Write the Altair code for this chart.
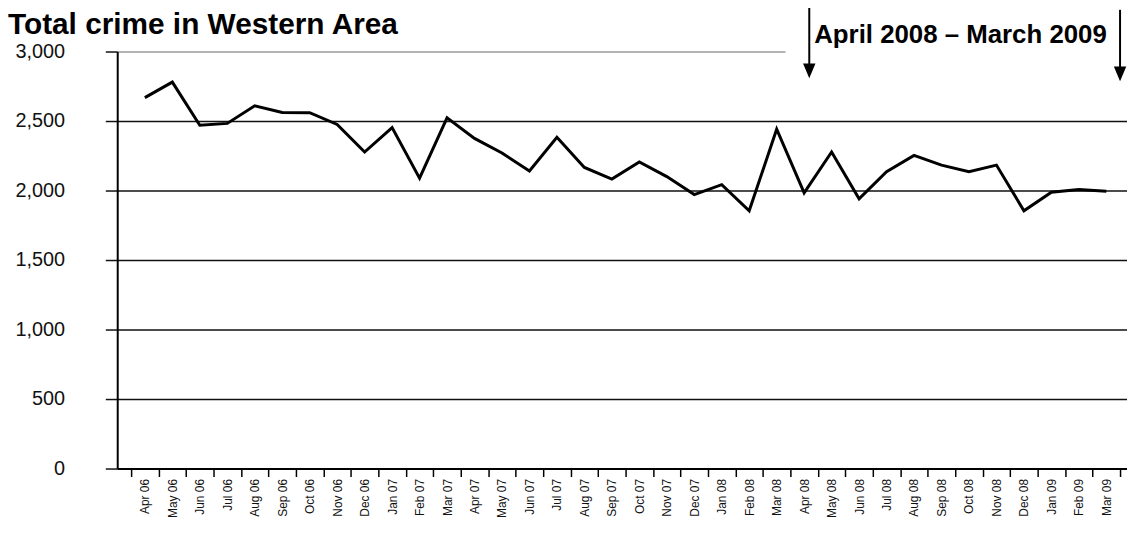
import altair as alt
import pandas as pd

months = ["Apr 06", "May 06", "Jun 06", "Jul 06", "Aug 06", "Sep 06", "Oct 06", "Nov 06",
          "Dec 06", "Jan 07", "Feb 07", "Mar 07", "Apr 07", "May 07", "Jun 07", "Jul 07",
          "Aug 07", "Sep 07", "Oct 07", "Nov 07", "Dec 07", "Jan 08", "Feb 08", "Mar 08",
          "Apr 08", "May 08", "Jun 08", "Jul 08", "Aug 08", "Sep 08", "Oct 08", "Nov 08",
          "Dec 08", "Jan 09", "Feb 09", "Mar 09"]
crimes = [2668, 2780, 2470, 2483, 2610, 2562, 2560, 2475,
          2277, 2453, 2089, 2523, 2375, 2270, 2140, 2383,
          2166, 2082, 2206, 2100, 1971, 2042, 1854, 2441,
          1983, 2277, 1941, 2136, 2253, 2183, 2136, 2183,
          1854, 1988, 2007, 1995]
y_ticks = [0, 500, 1000, 1500, 2000, 2500, 3000]
title_text = "Total crime in Western Area"
period_text = "April 2008 \u2013 March 2009"

df = pd.DataFrame({"month": months, "crimes": crimes})
one = pd.DataFrame({"a": [0]})

FONT = "Liberation Sans"
W, H = 1017, 420

x_enc = alt.X(
    "month:O", sort=months, bandPosition=0.5,
    scale=alt.Scale(type="band", paddingInner=0, paddingOuter=0.3795, align=0.667),
    axis=alt.Axis(title=None, tickBand="extent", grid=False, domainColor="black",
                  domainWidth=2, tickColor="black", tickWidth=1.5, tickSize=8,
                  labelAngle=270, labelAlign="right", labelBaseline="middle",
                  labelPadding=2, labelFontSize=12, labelFont=FONT, labelColor="#111",
                  labelOverlap=False),
)
y_enc = alt.Y(
    "crimes:Q",
    scale=alt.Scale(domain=[0, 3000], nice=False, zero=True),
    axis=alt.Axis(title=None, values=y_ticks, format=",d", grid=True,
                  gridColor={"condition": {"test": "datum.value === 3000", "value": "#9a9a9a"},
                             "value": "#111111"},
                  gridWidth=1.5, domainColor="black", domainWidth=2, tickColor="#111",
                  tickWidth=1.5, tickSize=12, labelFontSize=20, labelFont=FONT,
                  labelColor="#111", labelPadding=41),
)

line = alt.Chart(df).mark_line(color="black", strokeWidth=3, strokeJoin="miter").encode(
    x=x_enc, y=y_enc)

box = alt.Chart(one).mark_rect(color="white").encode(
    x=alt.value(673), x2=alt.value(W + 5), y=alt.value(-50), y2=alt.value(27))

period = alt.Chart(one).mark_text(
    text=period_text, align="left", baseline="alphabetic", fontSize=26,
    fontWeight="bold", font=FONT, color="black").encode(
    x=alt.value(702), y=alt.value(-9))

title = alt.Chart(one).mark_text(
    text=title_text, align="left", baseline="alphabetic", fontSize=30,
    fontWeight="bold", font=FONT, color="black").encode(
    x=alt.value(-110), y=alt.value(-18))

arrow_l = alt.Chart(one).mark_rule(color="black", strokeWidth=2).encode(
    x=alt.value(697), y=alt.value(-45), y2=alt.value(16))
arrow_r = alt.Chart(one).mark_rule(color="black", strokeWidth=2).encode(
    x=alt.value(1010), y=alt.value(-42), y2=alt.value(19))
head_shape = "M-1,-1.2L1,-1.2L0,1.2Z"
head_l = alt.Chart(one).mark_point(shape=head_shape, filled=True, size=156,
                                   color="black", opacity=1, strokeWidth=0).encode(
    x=alt.value(697), y=alt.value(19.5))
head_r = alt.Chart(one).mark_point(shape=head_shape, filled=True, size=156,
                                   color="black", opacity=1, strokeWidth=0).encode(
    x=alt.value(1010), y=alt.value(22.5))

chart = alt.layer(line, box, period, title, arrow_l, arrow_r, head_l, head_r).properties(
    width=W, height=H,
    autosize=alt.AutoSizeParams(type="none"),
    padding={"left": 110, "top": 42, "right": 0, "bottom": 50},
    background="white",
).configure_view(stroke=None)

chart.save("out.html", embed_options={"renderer": "svg", "actions": False})
